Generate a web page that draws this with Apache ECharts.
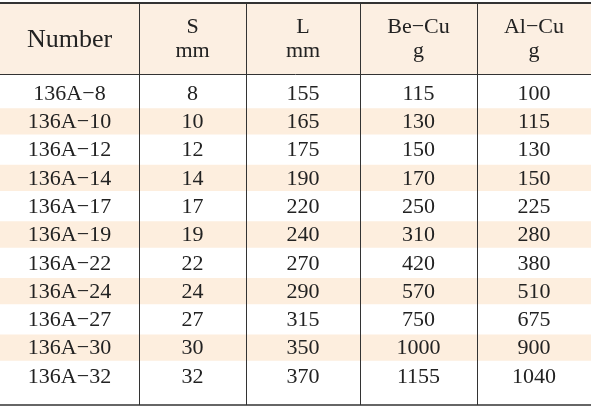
<!DOCTYPE html>
<html><head><meta charset="utf-8">
<script src="https://cdn.jsdelivr.net/npm/echarts@6/dist/echarts.min.js"></script>
<style>html,body{margin:0;padding:0;background:#fff}#c{width:591px;height:414px}</style>
</head><body><div id="c"></div>
<script>
var headers = [["Number"], ["S", "mm"], ["L", "mm"], ["Be-Cu", "g"], ["Al-Cu", "g"]];
var numbers = ["136A-8", "136A-10", "136A-12", "136A-14", "136A-17", "136A-19", "136A-22", "136A-24", "136A-27", "136A-30", "136A-32"];
var sValues = [8, 10, 12, 14, 17, 19, 22, 24, 27, 30, 32];
var lValues = [155, 165, 175, 190, 220, 240, 270, 290, 315, 350, 370];
var beCu = [115, 130, 150, 170, 250, 310, 420, 570, 750, 1000, 1155];
var alCu = [100, 115, 130, 150, 225, 280, 380, 510, 675, 900, 1040];
var colEdges = [0, 139, 246, 360, 477, 591];

var columns = [numbers.map(function (n) { return n.replace("-", "\u2212"); }), sValues, lValues, beCu, alCu];
var cells = [];
for (var r = 0; r < numbers.length; r++) {
  for (var c = 0; c < columns.length; c++) {
    cells.push([c, r, String(columns[c][r])]);
  }
}

var chart = echarts.init(document.getElementById("c"));
var FAMILY = "'Liberation Serif', 'DejaVu Serif', serif";

chart.setOption({
  animation: false,
  grid: { left: 0, right: 0, top: 79, height: 311 },
  xAxis: { type: "value", min: 0, max: 591, show: false },
  yAxis: { type: "category", data: numbers, inverse: true, show: false },
  series: [{
    type: "custom",
    z: 1,
    data: cells,
    renderItem: function (params, api) {
      var c = api.value(0), r = api.value(1);
      var x0 = api.coord([colEdges[c], r])[0];
      var x1 = api.coord([colEdges[c + 1], r])[0];
      var cy = api.coord([0, r])[1];
      var h = api.size([0, 1])[1];
      var children = [];
      if (r % 2 === 1) {
        children.push({ type: "rect", shape: { x: x0, y: cy - h / 2 + 1, width: x1 - x0, height: h - 2 }, style: { fill: "#fdeede" } });
      }
      children.push({ type: "text", style: { text: cells[params.dataIndex][2], x: (x0 + x1) / 2, y: cy + 1, align: "center", verticalAlign: "middle", fontSize: 22, fontFamily: FAMILY, fill: "#222" } });
      return { type: "group", children: children };
    }
  }]
});

var g = [];
g.push({ type: "rect", shape: { x: 0, y: 3, width: 591, height: 71 }, style: { fill: "#fcefe2" }, z: -1 });
g.push({ type: "line", z: 10, shape: { x1: 0, y1: 3, x2: 591, y2: 3 }, style: { stroke: "#333", lineWidth: 2 } });
g.push({ type: "line", z: 10, shape: { x1: 0, y1: 74.5, x2: 591, y2: 74.5 }, style: { stroke: "#333", lineWidth: 1 } });
g.push({ type: "line", z: 10, shape: { x1: 0, y1: 405, x2: 591, y2: 405 }, style: { stroke: "#333", lineWidth: 1.5 } });
for (var i = 1; i < colEdges.length - 1; i++) {
  var x = chart.convertToPixel({ gridIndex: 0 }, [colEdges[i], 0])[0] + 0.5;
  g.push({ type: "line", z: 10, shape: { x1: x, y1: 3, x2: x, y2: 405 }, style: { stroke: "#333", lineWidth: 1 } });
}
headers.forEach(function (hd, i) {
  var cx = (chart.convertToPixel({ gridIndex: 0 }, [colEdges[i], 0])[0] + chart.convertToPixel({ gridIndex: 0 }, [colEdges[i + 1], 0])[0]) / 2;
  if (hd.length === 1) {
    g.push({ type: "text", z: 10, style: { text: hd[0].replace("-", "\u2212"), x: cx, y: 40, align: "center", verticalAlign: "middle", fontSize: 26, fontFamily: FAMILY, fill: "#222" } });
  } else {
    g.push({ type: "text", z: 10, style: { text: hd[0].replace("-", "\u2212"), x: cx, y: 27, align: "center", verticalAlign: "middle", fontSize: 22, fontFamily: FAMILY, fill: "#222" } });
    g.push({ type: "text", z: 10, style: { text: hd[1], x: cx, y: 51, align: "center", verticalAlign: "middle", fontSize: 22, fontFamily: FAMILY, fill: "#222" } });
  }
});
chart.setOption({ graphic: g });
</script></body></html>
